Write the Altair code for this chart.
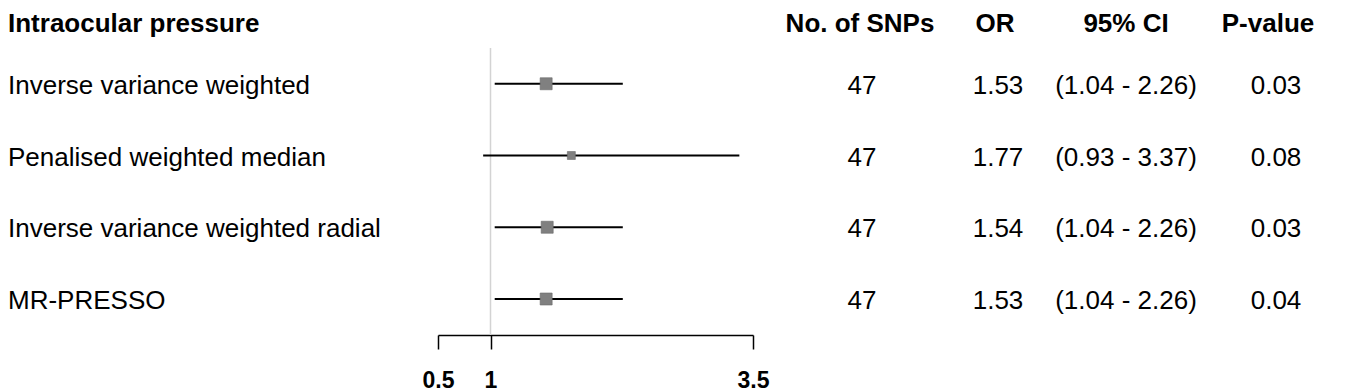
import altair as alt
import pandas as pd

# ---- data ----
title_text = "Intraocular pressure"
col_headers = ["No. of SNPs", "OR", "95% CI", "P-value"]
methods = [
    "Inverse variance weighted",
    "Penalised weighted median",
    "Inverse variance weighted radial",
    "MR-PRESSO",
]
n_snps = [47, 47, 47, 47]
odds_ratio = [1.53, 1.77, 1.54, 1.53]
ci_lower = [1.04, 0.93, 1.04, 1.04]
ci_upper = [2.26, 3.37, 2.26, 2.26]
p_values = [0.03, 0.08, 0.03, 0.04]
weights = [1.0, 0.44, 1.0, 1.0]
x_ticks = [0.5, 1, 3.5]
null_value = [1]

# ---- layout / style ----
FONT = "Liberation Sans"
FS = 26
H = 327
HDR_DY = 12
yscale = alt.Scale(domain=[0, 4], range=[4, 291])

df = pd.DataFrame({
    "row": [1, 2, 3, 4],
    "method": methods,
    "n_txt": [str(v) for v in n_snps],
    "or": odds_ratio,
    "lo": ci_lower,
    "hi": ci_upper,
    "or_txt": [f"{v:.2f}" for v in odds_ratio],
    "ci_txt": [f"({a:.2f} - {b:.2f})" for a, b in zip(ci_lower, ci_upper)],
    "p_txt": [f"{v:.2f}" for v in p_values],
    "w": weights,
    "slot": ["c"] * 4,
})


def yenc(field="row"):
    return alt.Y(f"{field}:Q", scale=yscale, axis=None)


# ---- left label panel ----
xl = alt.X("slot:N", scale=alt.Scale(align=0, paddingOuter=0), axis=None)
hdr = pd.DataFrame({"row": [0], "txt": [title_text], "slot": ["c"]})
label_panel = alt.layer(
    alt.Chart(hdr).mark_text(align="left", baseline="middle", font=FONT, fontSize=FS,
                             fontWeight="bold", dy=HDR_DY, color="black")
    .encode(x=xl, y=yenc(), text="txt:N"),
    alt.Chart(df).mark_text(align="left", baseline="middle", font=FONT, fontSize=FS,
                            dy=2, color="black")
    .encode(x=xl, y=yenc(), text="method:N"),
).properties(width=430, height=H)

# ---- forest panel ----
xscale = alt.Scale(domain=[0.5, 3.5], nice=False, zero=False)
xaxis = alt.Axis(values=x_ticks, labelExpr="datum.value + ''", title=None, grid=False,
                 tickSize=14, tickWidth=1.5, tickColor="black",
                 domainColor="black", domainWidth=1.5,
                 labelFont=FONT, labelFontSize=23, labelFontWeight="bold",
                 labelColor="black", labelPadding=20, labelFlush=False,
                 labelOverlap=False)

ref_df = pd.DataFrame({"x": null_value, "y0": [0.5], "y1": [4.5]})
ref = alt.Chart(ref_df).mark_rule(color="#d3d3d3", strokeWidth=1.5).encode(
    x=alt.X("x:Q", scale=xscale, axis=xaxis),
    y=alt.Y("y0:Q", scale=yscale, axis=None),
    y2="y1:Q",
)
ci = alt.Chart(df).mark_rule(color="black", strokeWidth=2.2).encode(
    x=alt.X("lo:Q", scale=xscale, axis=xaxis),
    x2="hi:Q",
    y=yenc(),
)
pts = alt.Chart(df).mark_square(filled=True, color="#808080", stroke="#6a6a6a",
                                strokeWidth=0.6, opacity=1).encode(
    x=alt.X("or:Q", scale=xscale, axis=xaxis),
    y=yenc(),
    size=alt.Size("w:Q", scale=alt.Scale(domain=[0, 1], range=[0, 144]), legend=None),
)
forest = alt.layer(ref, ci, pts).properties(width=315, height=H)


# ---- table columns ----
def col_panel(header, field, width, hdx):
    xs = alt.X("slot:N", axis=None)
    h = alt.Chart(pd.DataFrame({"row": [0], "txt": [header], "slot": ["c"]})).mark_text(
        align="center", baseline="middle", font=FONT, fontSize=FS, fontWeight="bold",
        dy=HDR_DY, dx=hdx, color="black").encode(x=xs, y=yenc(), text="txt:N")
    v = alt.Chart(df).mark_text(
        align="center", baseline="middle", font=FONT, fontSize=FS, dy=2,
        color="black").encode(x=xs, y=yenc(), text=f"{field}:N")
    return alt.layer(h, v).properties(width=width, height=H)


c1 = col_panel(col_headers[0], "n_txt", 218, -2)
c2 = col_panel(col_headers[1], "or_txt", 54, -3)
c3 = col_panel(col_headers[2], "ci_txt", 202, 0)
c4 = col_panel(col_headers[3], "p_txt", 98, -8)

chart = alt.hconcat(label_panel, forest, c1, c2, c3, c4, spacing=0, bounds="flush",
                    padding=0).configure_view(stroke=None)

chart.save("out.html", embed_options={"renderer": "svg", "actions": False})
